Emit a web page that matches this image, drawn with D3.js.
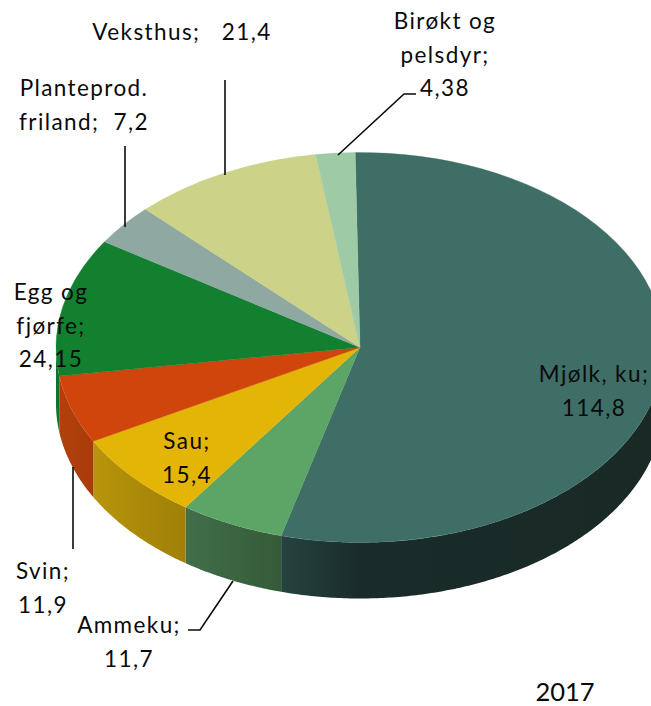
<!DOCTYPE html>
<html><head><meta charset="utf-8">
<script src="https://cdn.jsdelivr.net/npm/d3@7"></script>
<style>html,body{margin:0;padding:0;background:#fff;overflow:hidden}svg{display:block}
text{font-family:Lato,"Noto Sans",sans-serif;fill:#0a0a0a}</style>
</head><body><div id="c"></div>
<script>
const categories = ["Mjølk, ku","Ammeku","Sau","Svin","Egg og fjørfe","Planteprod. friland","Veksthus","Birøkt og pelsdyr"];
const values = [114.8,11.7,15.4,11.9,24.15,7.2,21.4,4.38];
const labelLines = [["Mjølk, ku;","{v}"],["Ammeku;","{v}"],["Sau;","{v}"],["Svin;","{v}"],["Egg og","fjørfe;","{v}"],["Planteprod.","friland;  {v}"],["Veksthus;   {v}"],["Birøkt og","pelsdyr;","{v}"]];
const topColors = ["#3e6e66","#5ca566","#e2b507","#d0450b","#12802e","#8fa8a2","#ccd288","#9ecba6"];
const sideStops = [
  [[0,"#26433f"],[0.2,"#1a2c29"],[1,"#182926"]],
  [[0,"#416f4a"],[1,"#355a38"]],
  [[0,"#b8950a"],[0.4,"#ad8c09"],[1,"#a08008"]],
  [[0,"#b2400c"],[1,"#a93c0a"]],
  [[0,"#10722b"],[1,"#10722b"]],
  [[0,"#888"],[1,"#888"]],[[0,"#888"],[1,"#888"]],[[0,"#888"],[1,"#888"]]
];
// label layout: centre x, first baseline y, line step
const labelPos = [[594,382],[129,633],[187,449],[43,579],[51,300],[84,96],[182,40],[445,29]];
const lineStep = 33.5;
const leaders = [
  [[338,155],[404,94],[416,94]],
  [[225,175],[225,80]],
  [[125,227],[125,146]],
  [[73,467],[73,549]],
  [[233,581],[200,630],[188,630]]
];
const W=651,H=706,cx=360,cy=347.5,rx=304,ry=195,depth=56;
const svg=d3.select("#c").append("svg").attr("width",W).attr("height",H);
const defs=svg.append("defs");
const rot=-0.9*Math.PI/180;
const pie=d3.pie().sort(null).startAngle(rot).endAngle(2*Math.PI+rot);
const arcs=pie(values);
const scaleR=d3.scaleLinear().domain([0,1]).range([0,rx]);
const arc=d3.arc().innerRadius(0).outerRadius(scaleR(1));
const side=d3.area().x(a=>cx+rx*Math.sin(a)).y0(a=>cy-ry*Math.cos(a)).y1(a=>cy-ry*Math.cos(a)+depth);
const sides=svg.append("g");
arcs.forEach((d,i)=>{
  const grad=defs.append("linearGradient").attr("id","g"+i);
  sideStops[i].forEach(s=>grad.append("stop").attr("offset",s[0]).attr("stop-color",s[1]));
  const a0=Math.max(d.startAngle,Math.PI/2),a1=Math.min(d.endAngle,3*Math.PI/2);
  if(a1<=a0)return;
  const n=Math.ceil((a1-a0)/0.01);
  const pts=d3.range(n+1).map(k=>a0+(a1-a0)*k/n);
  sides.append("path").attr("d",side(pts)).attr("fill",`url(#g${i})`);
});
svg.append("g").attr("transform",`translate(${cx},${cy}) scale(1,${ry/rx})`)
  .selectAll("path").data(arcs).join("path")
  .attr("d",arc).attr("fill",(d,i)=>topColors[i]).attr("stroke",(d,i)=>topColors[i]).attr("stroke-width",0.4);
const line=d3.line();
svg.append("g").selectAll("path").data(leaders).join("path")
  .attr("d",d=>line(d)).attr("fill","none").attr("stroke","#0a0a0a").attr("stroke-width",1.6);
const fmt=v=>String(v).replace(".",",");
const lab=svg.append("g").attr("font-size",22.5).attr("letter-spacing",1.4).attr("text-anchor","middle");
labelLines.forEach((lines,i)=>{
  lines.forEach((t,j)=>{
    lab.append("text").attr("x",labelPos[i][0]).attr("y",labelPos[i][1]+j*lineStep)
      .style("white-space","pre").text(t.replace("{v}",fmt(values[i])));
  });
});
svg.append("text").attr("x",565).attr("y",701).attr("text-anchor","middle").attr("font-size",25.5).text("2017");
</script></body></html>
